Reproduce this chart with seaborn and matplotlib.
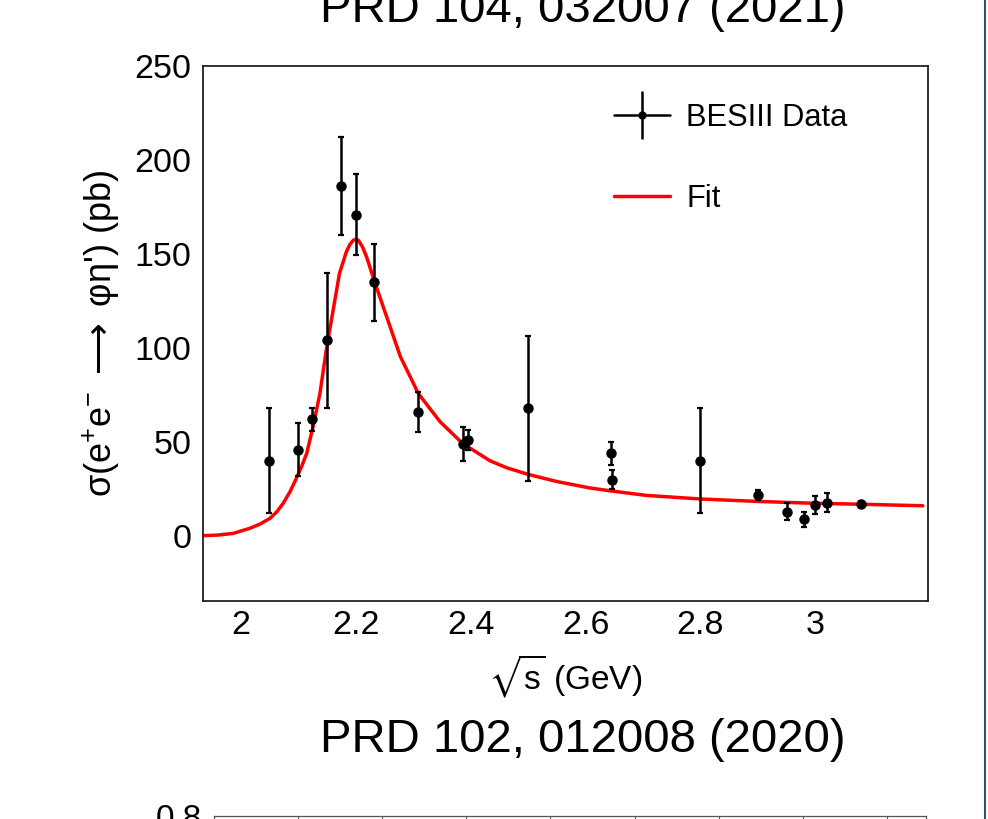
import numpy as np
import pandas as pd
import matplotlib
matplotlib.use("Agg")
import matplotlib.pyplot as plt
from matplotlib.lines import Line2D
from matplotlib.ticker import MultipleLocator
from matplotlib.legend_handler import HandlerTuple
import seaborn as sns

# ---- data ----
energy = [2.05, 2.10, 2.125, 2.15, 2.175, 2.20, 2.2324, 2.3094, 2.3864, 2.396,
          2.50, 2.6444, 2.6464, 2.80, 2.90, 2.95, 2.981, 3.00, 3.02, 3.08]
xsec = [40, 46, 62, 104, 186, 171, 135, 66, 49, 51,
        68, 44, 30, 40, 22, 13, 9, 16.5, 17.7, 17]
xsec_err = [28, 14, 6, 36, 26, 21.6, 20.5, 10.6, 9, 5.5,
            38.5, 6.2, 5, 28, 2.7, 4.4, 4, 5, 5, 1.5]

fit_x = [1.935, 1.96, 1.987, 2.016, 2.034, 2.051, 2.063, 2.074, 2.086, 2.097,
         2.106, 2.115, 2.126, 2.138, 2.149, 2.161, 2.172, 2.184, 2.19, 2.196,
         2.20, 2.205, 2.212, 2.219, 2.234, 2.254, 2.278, 2.309, 2.329, 2.347,
         2.386, 2.434, 2.463, 2.50, 2.55, 2.607, 2.644, 2.706, 2.80, 2.90,
         3.00, 3.08, 3.187]
fit_y = [0.2, 0.5, 1.4, 4.1, 6.4, 9.4, 12.9, 17.4, 23.6, 30.7,
         36.9, 44.0, 58.1, 75.9, 98.9, 120.2, 139.7, 151.2, 155.0, 157.3,
         157.8, 157.3, 153.8, 148.6, 134.4, 116.7, 95.4, 75.9, 67.9, 60.8,
         49.3, 40.0, 36.3, 32.8, 29.0, 25.6, 24.0, 21.6, 19.7, 18.4,
         17.4, 16.9, 16.1]

xticks = [2.0, 2.2, 2.4, 2.6, 2.8, 3.0]
xtick_labels = ["2", "2.2", "2.4", "2.6", "2.8", "3"]
yticks = [0, 50, 100, 150, 200, 250]

data_df = pd.DataFrame({"E": energy, "sigma": xsec, "err": xsec_err})
fit_df = pd.DataFrame({"E": fit_x, "sigma": fit_y})

sns.set_theme(style="white")
plt.rcParams["font.family"] = ["Liberation Sans", "DejaVu Sans"]
plt.rcParams["mathtext.fontset"] = "custom"
plt.rcParams["mathtext.rm"] = "Liberation Sans"
plt.rcParams["mathtext.it"] = "Liberation Sans"
plt.rcParams["mathtext.bf"] = "Liberation Sans:bold"
plt.rcParams["mathtext.sf"] = "DejaVu Sans"
plt.rcParams["mathtext.fallback"] = "stixsans"
plt.rcParams["text.color"] = "black"
plt.rcParams["axes.labelcolor"] = "black"
plt.rcParams["xtick.color"] = "black"
plt.rcParams["ytick.color"] = "black"

W, H = 988, 819
fig = plt.figure(figsize=(W / 100, H / 100), dpi=100)
fig.patch.set_facecolor("white")

L, R, T, B = 202.7, 928.3, 66.0, 600.7
ax = fig.add_axes([L / W, 1 - B / H, (R - L) / W, (B - T) / H])

sns.lineplot(data=fit_df, x="E", y="sigma", ax=ax, color="#ff0000",
             linewidth=2.5, zorder=2, legend=False)
ax.errorbar(data_df["E"], data_df["sigma"], yerr=data_df["err"], fmt="o",
            color="black", markersize=6.5, elinewidth=1.8, capsize=2.2,
            capthick=1.6, zorder=3)

ax.set_xlim(1.934, 3.1965)
ax.set_ylim(-34.4, 250)
ax.set_xticks(xticks)
ax.set_xticklabels(xtick_labels)
ax.set_yticks(yticks)
ax.xaxis.set_minor_locator(MultipleLocator(0.05))
ax.yaxis.set_minor_locator(MultipleLocator(10))

ax.tick_params(axis="y", which="major", direction="in", length=15.5, width=1.2,
               labelsize=24.5, pad=8, colors="#222222", labelcolor="black")
ax.tick_params(axis="y", which="minor", direction="in", length=7.7, width=1.2,
               colors="#222222")
ax.tick_params(axis="x", which="major", direction="in", length=11.3, width=1.2,
               labelsize=24.5, pad=7, colors="#222222", labelcolor="black")
ax.tick_params(axis="x", which="minor", direction="in", length=5.3, width=1.2,
               colors="#222222")
ax.tick_params(top=False, right=False, which="both")
for sp in ax.spines.values():
    sp.set_visible(True)
    sp.set_linewidth(1.3)
    sp.set_color("#222222")

ax.set_xlabel(r"$\sqrt{s}$ (GeV)", fontsize=24, labelpad=8)
ax.set_ylabel(r"σ(e$^{+}$e$^{-}$ $\mathsf{\longrightarrow}$ φη') (pb)",
              fontsize=26, labelpad=9)

# legend
h_data = (Line2D([], [], color="black", lw=1.8, marker="|", markersize=35,
                 markeredgewidth=1.8),
          Line2D([], [], color="black", lw=0, marker="o", markersize=5))
h_fit = Line2D([], [], color="#ff0000", lw=2.5)
leg = ax.legend([h_data, h_fit], ["BESIII Data", "Fit"], loc="upper left",
                bbox_to_anchor=((614 - L) / (R - L), 1 - (103 - T) / (B - T)),
                frameon=False, fontsize=22.2, handlelength=1.8, handletextpad=0.55,
                labelspacing=1.65, borderpad=0, borderaxespad=0,
                handler_map={tuple: HandlerTuple(ndivide=1, pad=0)})

# slide texts
fig.text(583 / W, 1 - 22 / H, "PRD 104, 032007 (2021)", ha="center",
         va="baseline", fontsize=34)
fig.text(583 / W, 1 - 752 / H, "PRD 102, 012008 (2020)", ha="center",
         va="baseline", fontsize=34)

# partial next panel at the bottom of the slide
ax2 = fig.add_axes([214 / W, -0.3, 712 / W, 0.3 + (H - 816) / H])
ax2.set_xlim(0, 8.466)
ax2.set_ylim(0, 0.8)
ax2.set_yticks([0.8])
ax2.set_yticklabels(["0.8"])
ax2.set_xticks(range(1, 9))
ax2.tick_params(axis="x", top=True, bottom=False, labelbottom=False,
                direction="in", length=4, width=0.8, colors="#555555")
ax2.tick_params(axis="y", direction="in", length=0, labelsize=24, pad=9,
                labelcolor="black")
for sp in ax2.spines.values():
    sp.set_linewidth(0.9)
    sp.set_color("#555555")

# slide border on the right
fig.add_artist(Line2D([985 / W, 985 / W], [0, 1], color="#34506e", lw=1.5,
                      transform=fig.transFigure))

fig.savefig("out.png", dpi=100)
